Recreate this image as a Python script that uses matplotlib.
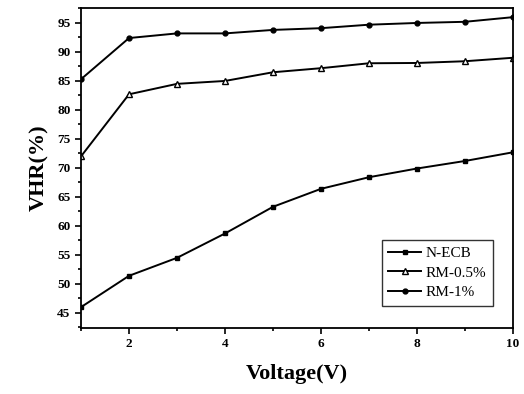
import matplotlib.pyplot as plt
from matplotlib.ticker import MultipleLocator

voltage = [1, 2, 3, 4, 5, 6, 7, 8, 9, 10]
n_ecb = [46.0, 51.4, 54.5, 58.7, 63.3, 66.4, 68.4, 69.9, 71.2, 72.7]
rm_05 = [72.0, 82.7, 84.5, 85.0, 86.5, 87.2, 88.05, 88.1, 88.4, 89.0]
rm_1 = [85.3, 92.4, 93.2, 93.2, 93.8, 94.1, 94.7, 95.0, 95.2, 96.0]

plt.rcParams["font.family"] = ["Liberation Serif", "DejaVu Serif"]

fig = plt.figure(figsize=(5.24, 3.94), dpi=100)
ax = fig.add_axes([0.1546, 0.1675, 0.8244, 0.8125])

ax.plot(voltage, n_ecb, color="black", lw=1.4, marker="s", ms=3.5, label="N-ECB")
ax.plot(voltage, rm_05, color="black", lw=1.4, marker="^", ms=4.5,
        markerfacecolor="white", label="RM-0.5%")
ax.plot(voltage, rm_1, color="black", lw=1.4, marker="o", ms=3.5, label="RM-1%")

ax.set_xlim(1, 10)
ax.set_ylim(42.4, 97.6)
ax.xaxis.set_major_locator(MultipleLocator(2))
ax.xaxis.set_minor_locator(MultipleLocator(1))
ax.yaxis.set_major_locator(MultipleLocator(5))
ax.yaxis.set_minor_locator(MultipleLocator(2.5))
ax.tick_params(which="both", direction="out", top=False, right=False,
               labelsize=9.5, width=1.2)
ax.tick_params(which="major", length=4)
ax.tick_params(which="minor", length=2)
for lab in ax.get_xticklabels() + ax.get_yticklabels():
    lab.set_fontweight("bold")
for sp in ax.spines.values():
    sp.set_linewidth(1.3)

ax.set_xlabel("Voltage(V)", fontsize=16, fontweight="bold", labelpad=10)
ax.set_ylabel("VHR(%)", fontsize=16, fontweight="bold", labelpad=6)

leg = ax.legend(loc="lower right", bbox_to_anchor=(0.953, 0.07), fontsize=11,
                frameon=True, fancybox=False, edgecolor="black",
                handlelength=2.2, handletextpad=0.3, borderpad=0.4,
                labelspacing=0.4, borderaxespad=0)
leg.get_frame().set_linewidth(1.0)

fig.savefig("out.png", dpi=100)
